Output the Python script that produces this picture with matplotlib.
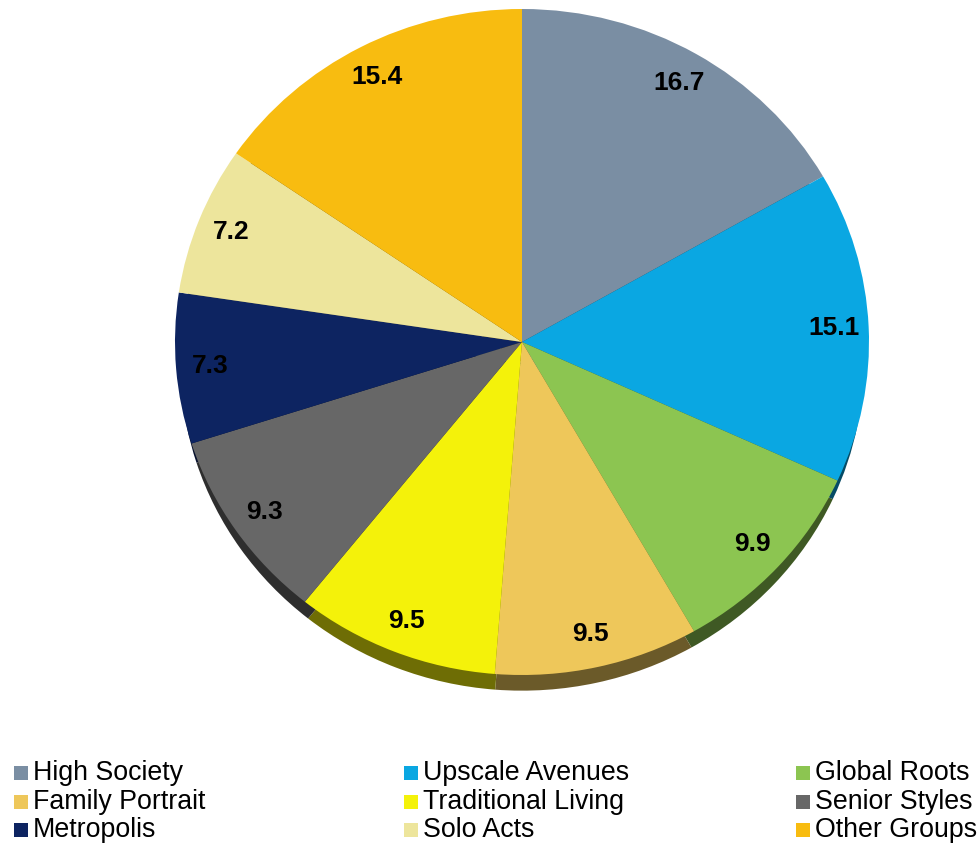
import matplotlib.pyplot as plt
import numpy as np
from matplotlib.colors import to_rgb
from matplotlib.patches import Rectangle

segments = ["High Society", "Upscale Avenues", "Global Roots", "Family Portrait",
            "Traditional Living", "Senior Styles", "Metropolis", "Solo Acts", "Other Groups"]
shares = [16.7, 15.1, 9.9, 9.5, 9.5, 9.3, 7.3, 7.2, 15.4]
colors = ["#7a8ea3", "#0aa7e2", "#8cc551", "#eec75a", "#f4f20a",
          "#676767", "#0d2461", "#ede59c", "#f8bc10"]

W, H = 980, 844
fig = plt.figure(figsize=(W / 100, H / 100), dpi=100)

# pie drawn in an axes whose pixel box gives a slightly flattened disc
cx, cy, rx, ry = 522, 342, 347, 333
ax = fig.add_axes([(cx - rx) / W, (H - (cy + ry * 1.1)) / H, 2 * rx / W, 2.1 * ry / H])

# darker copy, pushed down, shows as the rim of the disc
side = [tuple(np.array(to_rgb(c)) * 0.45) for c in colors]
ax.pie(shares, colors=side, startangle=90, counterclock=False, radius=0.985,
       center=(0, -0.062), wedgeprops=dict(linewidth=0))
wedges, texts = ax.pie(shares, colors=colors, startangle=90, counterclock=False,
                       radius=1, labels=[f"{v:.1f}" for v in shares], labeldistance=0.9,
                       wedgeprops=dict(linewidth=0),
                       textprops=dict(fontsize=19, fontweight="bold",
                                      family="Liberation Sans", color="black"))
for t in texts:
    t.set_ha("center")
    t.set_va("center")
ax.set_aspect("auto")
ax.set_xlim(-1, 1)
ax.set_ylim(-1.1, 1)
ax.axis("off")

# legend, three per row
col_x = [14, 404, 796]
row_y = [773, 802, 830]
for i, (name, c) in enumerate(zip(segments, colors)):
    x = col_x[i % 3]
    y = row_y[i // 3]
    fig.patches.append(Rectangle((x / W, (H - y - 7) / H), 14 / W, 14 / H,
                                 transform=fig.transFigure, color=c, linewidth=0))
    fig.text((x + 19) / W, (H - y) / H, name, fontsize=19.3, family="Liberation Sans",
             va="center", ha="left")

fig.savefig("out.png", dpi=100)
